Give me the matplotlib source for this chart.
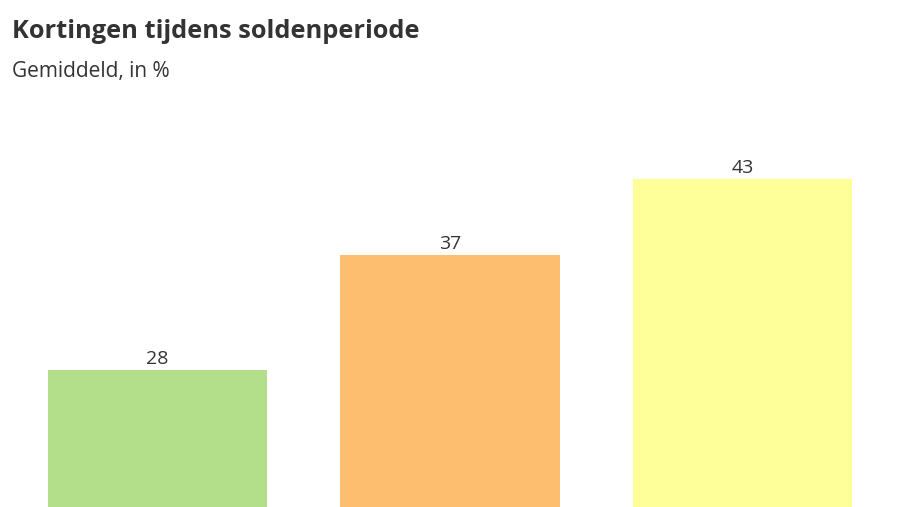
import numpy as np
import matplotlib
matplotlib.use("Agg")
import matplotlib.pyplot as plt

# data
categories = ["A", "B", "C"]
values = [28, 37, 43]
colors = ["#b3df8a", "#fdbf6f", "#ffff99"]

title = "Kortingen tijdens soldenperiode"
subtitle = "Gemiddeld, in %"

plt.rcParams["font.family"] = ["Open Sans", "DejaVu Sans"]

fig = plt.figure(figsize=(9, 5.07), dpi=100)
ax = fig.add_axes([0, 0, 1, 0.8028])

x = np.arange(len(categories))
bars = ax.bar(x, values, width=0.75, color=colors)
for b, v in zip(bars, values):
    ax.annotate(str(v), (b.get_x() + b.get_width() / 2, b.get_height()),
                xytext=(0, 4.3), textcoords="offset points",
                ha="center", va="baseline", fontsize=14, color="#333333")

ax.set_xlim(-0.538, 2.538)
ax.set_ylim(17.24, 49.2)
ax.axis("off")

fig.text(12 / 900, 1 - 38 / 507, title, fontsize=18.3, fontweight="bold",
         color="#333333", va="baseline")
fig.text(12 / 900, 1 - 77 / 507, subtitle, fontsize=15,
         color="#333333", va="baseline")

fig.savefig("out.png", dpi=100)
